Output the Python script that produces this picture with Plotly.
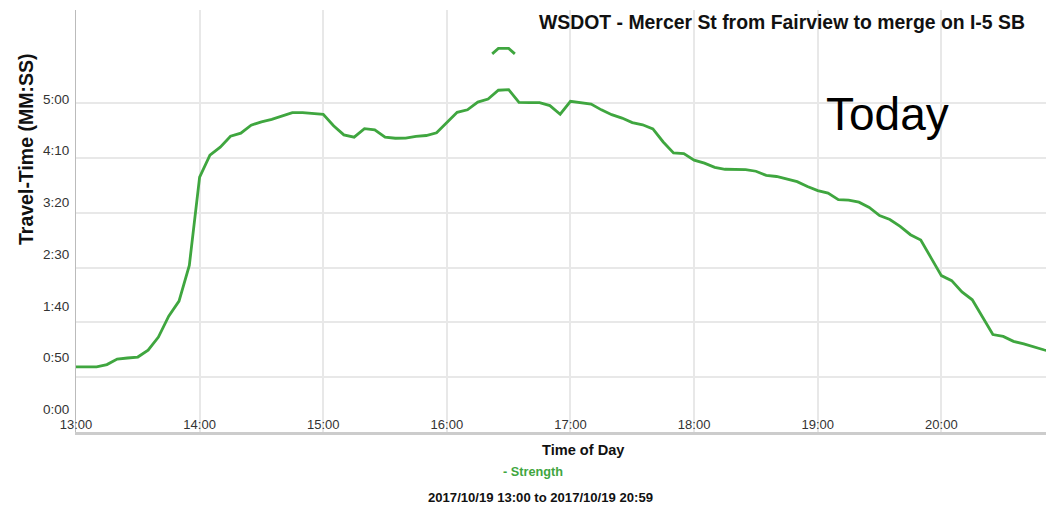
import plotly.graph_objects as go
import pandas as pd

# ---- data (travel time in seconds, every 5 minutes from 13:00) ----
start_time = "2017-10-19 13:00"
step_minutes = 5
travel_seconds = [
    59.5, 59.5, 59.5, 61.5, 66.5, 67.5, 68.4, 74.7, 86.6, 105.7, 119.4, 152.0,
    232.5, 252.5, 259.8, 269.8, 272.6, 279.9, 283.0, 285.3, 288.0, 291.4, 291.4, 290.8,
    289.9, 279.4, 271.1, 269.0, 276.8, 275.7, 269.0, 268.0, 268.1, 269.8, 270.5, 273.0,
    281.9, 291.7, 294.0, 301.0, 303.7, 311.8, 312.4, 300.8, 300.5, 300.5, 297.8, 289.9,
    301.7, 300.4, 299.2, 293.9, 289.5, 286.4, 282.3, 280.3, 276.5, 264.6, 254.6, 254.0,
    248.0, 245.3, 241.4, 239.7, 239.7, 239.3, 237.9, 234.1, 233.1, 230.8, 228.4, 224.0,
    220.2, 217.9, 212.0, 211.6, 209.7, 204.9, 197.4, 193.9, 187.6, 180.0, 175.2, 158.9,
    142.7, 138.1, 127.8, 120.6, 104.6, 88.9, 87.2, 82.7, 80.4, 77.4, 74.8, 73.1,
]
# small detached fragment near 16:25
spike_times = ["2017-10-19 16:22", "2017-10-19 16:25", "2017-10-19 16:30", "2017-10-19 16:33"]
spike_seconds = [345, 350, 350, 345]

x_tick_vals = ["2017-10-19 %02d:00" % h for h in range(13, 21)]
x_tick_text = ["%02d:00" % h for h in range(13, 21)]
y_tick_vals = [0, 50, 100, 150, 200, 250, 300]
y_tick_text = ["0:00", "0:50", "1:40", "2:30", "3:20", "4:10", "5:00"]

title_text = "WSDOT - Mercer St from Fairview to merge on I-5 SB"
x_title = "Time of Day"
y_title = "Travel-Time (MM:SS)"
series_name = "Strength"
range_text = "2017/10/19 13:00 to 2017/10/19 20:59"
overlay_text = "Today"

times = pd.date_range(start_time, periods=len(travel_seconds), freq="%dmin" % step_minutes)

GREEN = "#3fa63f"
FONT = "Liberation Sans, Arial, sans-serif"

# the page body has an 8px margin; plot area should span x 76..1054, y 10..432 on the page
PAGE_OFF = 8
PL, PR, PT, PB = 76, 1054, 10, 432
W, H = 1054 - PAGE_OFF, 512 - 2 * PAGE_OFF


def px(xp):
    return (xp - PL) / (PR - PL)


def py(yp):
    return (PB - yp) / (PB - PT)


fig = go.Figure()
fig.add_trace(go.Scatter(x=times, y=travel_seconds, mode="lines", name=series_name,
                         line=dict(color=GREEN, width=2.8), showlegend=False))
fig.add_trace(go.Scatter(x=pd.to_datetime(spike_times), y=spike_seconds, mode="lines",
                         line=dict(color=GREEN, width=2.8), showlegend=False))

fig.update_layout(
    width=W, height=H,
    margin=dict(l=PL - PAGE_OFF, r=W - (PR - PAGE_OFF), t=PT - PAGE_OFF, b=H - (PB - PAGE_OFF)),
    paper_bgcolor="white", plot_bgcolor="white",
    xaxis=dict(
        type="date",
        range=["2017-10-19 13:00", "2017-10-19 20:54:40"],
        tickvals=x_tick_vals, ticktext=x_tick_text,
        ticklabelposition="inside", ticklabeloverflow="allow",
        tickfont=dict(family=FONT, size=13, color="#333333"),
        showgrid=True, gridcolor="#e8e8e8", gridwidth=2,
        showline=True, linecolor="#cccccc", linewidth=3,
        ticks="", zeroline=False,
    ),
    yaxis=dict(
        range=[0, 385],
        tickvals=y_tick_vals, showticklabels=False,
        showgrid=True, gridcolor="#e8e8e8", gridwidth=2,
        showline=True, linecolor="#bbbbbb", linewidth=1,
        ticks="", zeroline=False,
    ),
)

# y tick labels (sit slightly above their grid lines, as in the source)
for v, t in zip(y_tick_vals, y_tick_text):
    fig.add_annotation(x=0, xref="paper", xanchor="right", xshift=-5,
                       y=20.5 + v * 0.944, yref="y", yanchor="middle",
                       text=t, showarrow=False,
                       font=dict(family=FONT, size=13.5, color="#333333"))

fig.add_annotation(x=px(1027), xref="paper", xanchor="right",
                   y=py(22), yref="paper", yanchor="middle",
                   text="<b>%s</b>" % title_text, showarrow=False,
                   font=dict(family=FONT, size=19.4, color="#111111"))
fig.add_annotation(x=px(887), xref="paper", xanchor="center",
                   y=py(114), yref="paper", yanchor="middle",
                   text=overlay_text, showarrow=False,
                   font=dict(family=FONT, size=46, color="#000000"))
fig.add_annotation(x=px(583), xref="paper", xanchor="center",
                   y=py(450), yref="paper", yanchor="middle",
                   text="<b>%s</b>" % x_title, showarrow=False,
                   font=dict(family=FONT, size=14.6, color="#111111"))
fig.add_annotation(x=px(533), xref="paper", xanchor="center",
                   y=py(472), yref="paper", yanchor="middle",
                   text="<b>- %s</b>" % series_name, showarrow=False,
                   font=dict(family=FONT, size=12.7, color=GREEN))
fig.add_annotation(x=px(540), xref="paper", xanchor="center",
                   y=py(497), yref="paper", yanchor="middle",
                   text="<b>%s</b>" % range_text, showarrow=False,
                   font=dict(family=FONT, size=13.1, color="#111111"))
fig.add_annotation(x=px(26), xref="paper", xanchor="center",
                   y=py(150), yref="paper", yanchor="middle",
                   text="<b>%s</b>" % y_title, textangle=-90, showarrow=False,
                   font=dict(family=FONT, size=19.5, color="#111111"))

fig.write_html("out.html")
